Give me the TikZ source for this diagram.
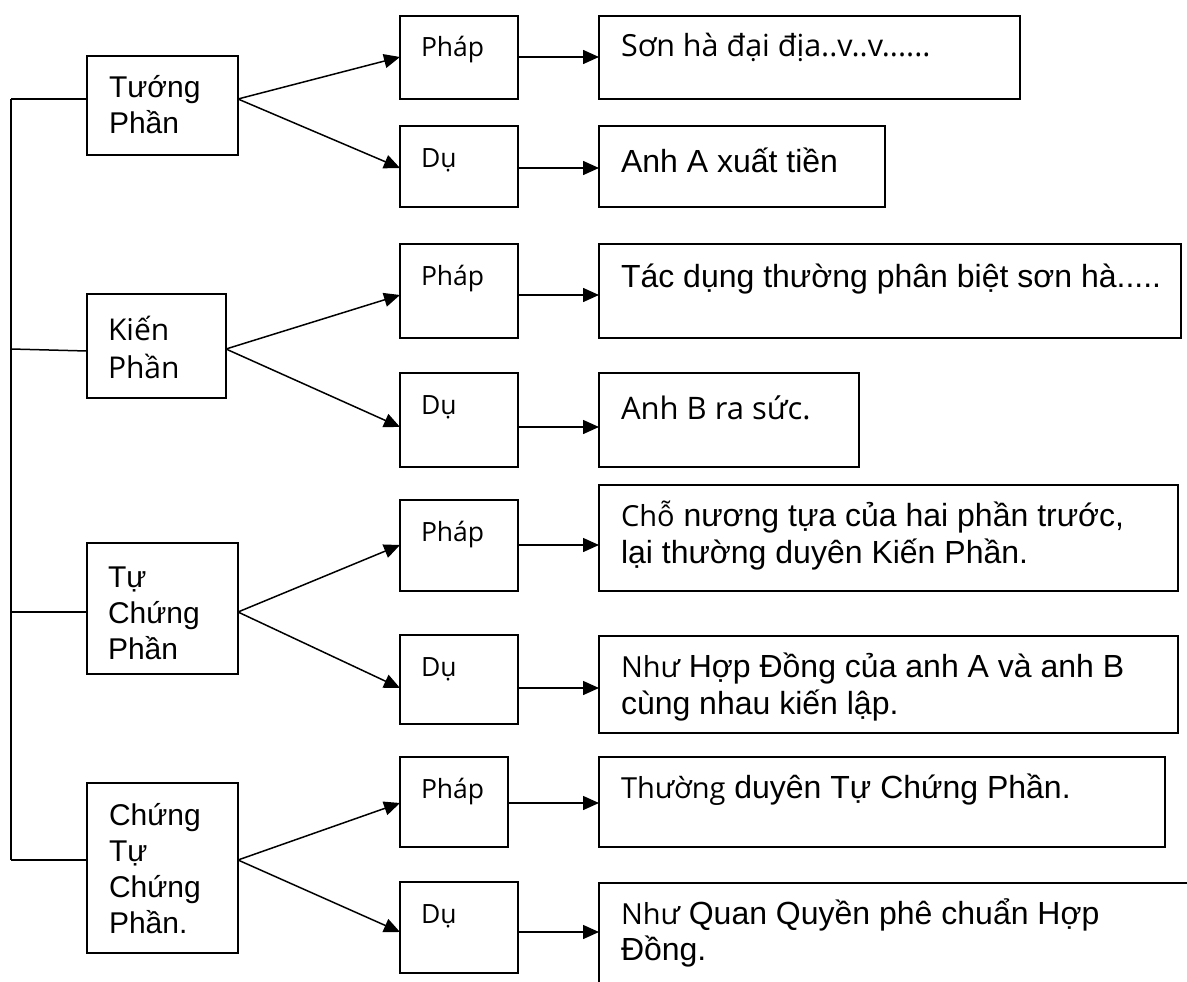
\documentclass[tikz,border=0pt]{standalone}
\usepackage{fontspec}
\setmainfont{Liberation Sans}
\newfontfamily\segoe{Open Sans}
\usetikzlibrary{arrows.meta,calc}

% font helpers: Arial-like body text and a Segoe-like face
\newcommand\arialfont[2]{\rmfamily\fontsize{#1}{#2}\selectfont}
\newcommand\segfont[2]{\segoe\fontsize{#1}{#2}\selectfont}

% box with top-left corner, size, left padding, first baseline and text
\newcommand\boxnode[8]{%
  \node[box, anchor=north west] (#1) at (#2,#3)
    {\parbox[c][#5pt][t]{#4pt}{\raggedright\leftskip=#6pt\relax\rule{0pt}{#7pt}#8}};}

\tikzset{
  box/.style={draw, line width=1.5pt, inner sep=0pt, outer sep=0pt},
  link/.style={line width=1.5pt},
  arr/.style={line width=1.5pt, -{Triangle[length=16pt,width=14pt]}}
}

\begin{document}
\begin{tikzpicture}[x=1pt, y=-1pt]
\useasboundingbox (0,0) rectangle (1187,982);
\fill[white] (0,0) rectangle (1187,982);

% left column
\boxnode{L1}{87}{56}{151}{99}{22}{41}{\arialfont{30}{36}Tướng\\Phần}
\boxnode{L2}{87}{294}{139}{104}{21}{46}{\segfont{30}{38}Kiến\\Phần}
\boxnode{L3}{87}{543}{151}{131}{21}{44}{\arialfont{30}{36}Tự\\Chứng\\Phần}
\boxnode{L4}{87}{783}{151}{170}{22}{42}{\arialfont{30}{36}Chứng\\Tự\\Chứng\\Phần.}

% middle column
\boxnode{P1}{400}{16}{118}{83}{21}{41}{\segfont{26.5}{32}Pháp}
\boxnode{D1}{400}{126}{118}{81}{21}{41}{\segfont{26.5}{32}Dụ}
\boxnode{P2}{400}{244}{118}{94}{21}{41}{\segfont{26.5}{32}Pháp}
\boxnode{D2}{400}{373}{118}{94}{21}{41}{\segfont{26.5}{32}Dụ}
\boxnode{P3}{400}{500}{118}{91}{21}{41}{\segfont{26.5}{32}Pháp}
\boxnode{D3}{400}{635}{118}{89}{21}{41}{\segfont{26.5}{32}Dụ}
\boxnode{P4}{400}{757}{108}{90}{21}{41}{\segfont{26.5}{32}Pháp}
\boxnode{D4}{400}{882}{118}{91}{21}{41}{\segfont{26.5}{32}Dụ}

% right column
\boxnode{R1}{599}{16}{421}{83}{22}{41}{\segfont{30.5}{37}Sơn hà đại địa..v..v......}
\boxnode{R2}{599}{126}{286}{81}{22}{46}{\arialfont{32}{37}Anh A xuất tiền}
\boxnode{R3}{599}{244}{582}{94}{22}{43}{\arialfont{32}{37}Tác dụng thường phân biệt sơn hà.....}
\boxnode{R4}{599}{373}{260}{94}{22}{46}{\segfont{31}{37}Anh B ra sức.}
\boxnode{R5}{599}{485}{579}{106}{22}{41}{\arialfont{32}{37}{\segfont{29}{37}Chỗ} nương tựa của hai phần trước,\\lại thường duyên Kiến Phần.}
\boxnode{R6}{599}{636}{579}{97}{22}{41}{\arialfont{32}{37}{\segfont{29}{37}Như} Hợp Đồng của anh A và anh B\\cùng nhau kiến lập.}
\boxnode{R7}{599}{757}{566}{90}{22}{41}{\arialfont{32}{37}{\segfont{29}{37}Thường} duyên Tự Chứng Phần.}
\boxnode{R8}{599}{883}{620}{120}{22}{41}{\arialfont{32}{36}{\segfont{29}{36}Như} Quan Quyền phê chuẩn Hợp\\Đồng.}

% trunk and its junctions
\coordinate (T1) at (11,99);
\coordinate (T2) at (11,349);
\coordinate (T3) at (11,612);
\coordinate (T4) at (11,860);
\draw[link] (T1) -- (T4);
\draw[link] (T1) -- (T1 -| L1.west);
\draw[link] (T2) -- ($(T2 -| L2.west)+(0,2)$);
\draw[link] (T3) -- (T3 -| L3.west);
\draw[link] (T4) -- (T4 -| L4.west);

% heights at which the arrows meet the middle column
\coordinate (yP1) at (0,57);
\coordinate (yD1) at (0,168);
\coordinate (yP2) at (0,295);
\coordinate (yD2) at (0,427);
\coordinate (yP3) at (0,545);
\coordinate (yD3) at (0,688);
\coordinate (yP4) at (0,803);
\coordinate (yD4) at (0,932);

% branches from the left boxes
\draw[arr] (L1.east |- T1) -- (P1.west |- yP1);
\draw[arr] (L1.east |- T1) -- (D1.west |- yD1);
\draw[arr] (L2.east |- T2) -- (P2.west |- yP2);
\draw[arr] (L2.east |- T2) -- (D2.west |- yD2);
\draw[arr] (L3.east |- T3) -- (P3.west |- yP3);
\draw[arr] (L3.east |- T3) -- (D3.west |- yD3);
\draw[arr] (L4.east |- T4) -- (P4.west |- yP4);
\draw[arr] (L4.east |- T4) -- (D4.west |- yD4);

% middle to right
\draw[arr] (P1.east |- yP1) -- (R1.west |- yP1);
\draw[arr] (D1.east |- yD1) -- (R2.west |- yD1);
\draw[arr] (P2.east |- yP2) -- (R3.west |- yP2);
\draw[arr] (D2.east |- yD2) -- (R4.west |- yD2);
\draw[arr] (P3.east |- yP3) -- (R5.west |- yP3);
\draw[arr] (D3.east |- yD3) -- (R6.west |- yD3);
\draw[arr] (P4.east |- yP4) -- (R7.west |- yP4);
\draw[arr] (D4.east |- yD4) -- (R8.west |- yD4);
\end{tikzpicture}
\end{document}
